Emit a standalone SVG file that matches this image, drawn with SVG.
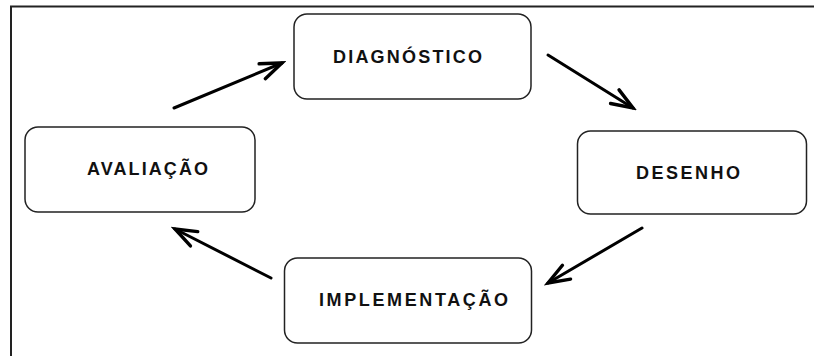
<svg xmlns="http://www.w3.org/2000/svg" width="814" height="356" viewBox="0 0 814 356">
<style>
.box{fill:#fff;stroke:#222;stroke-width:1.5}
.lbl{font-family:"Liberation Sans",Arial,sans-serif;font-weight:bold;font-size:18px;fill:#111}
.arr{stroke:#000;stroke-width:3;fill:none;stroke-linecap:round}
.frame{stroke:#222;stroke-width:2;fill:none}
</style>
<defs>
<marker id="ah" markerUnits="userSpaceOnUse" markerWidth="30" markerHeight="30" viewBox="-24 -12 28 24" refX="0" refY="0" orient="auto">
<path d="M-20,-7.5 L0,0 L-20,7.5" fill="none" stroke="#000" stroke-width="3.2" stroke-linejoin="miter" stroke-linecap="round"/>
</marker>
</defs>
<rect width="814" height="356" fill="#fff"/>
<path class="frame" d="M11,356 V6.5 H814"/>
<g id="diagnostico">
<rect class="box" x="294" y="14" width="237" height="85" rx="13"/>
<text class="lbl" x="333" y="63" textLength="149" lengthAdjust="spacing">DIAGNÓSTICO</text>
</g>
<g id="desenho">
<rect class="box" x="577.5" y="131" width="229" height="83" rx="13"/>
<text class="lbl" x="636" y="179" textLength="104" lengthAdjust="spacing">DESENHO</text>
</g>
<g id="implementacao">
<rect class="box" x="284.5" y="258" width="247" height="85" rx="13"/>
<text class="lbl" x="319" y="306" textLength="189" lengthAdjust="spacing">IMPLEMENTAÇÃO</text>
</g>
<g id="avaliacao">
<rect class="box" x="25" y="127" width="230" height="85" rx="13"/>
<text class="lbl" x="87" y="175" textLength="121" lengthAdjust="spacing">AVALIAÇÃO</text>
</g>
<g id="connectors">
<line class="arr" x1="174" y1="108" x2="282" y2="63" marker-end="url(#ah)"/>
<line class="arr" x1="548" y1="55" x2="633" y2="108" marker-end="url(#ah)"/>
<line class="arr" x1="642" y1="228" x2="548" y2="283" marker-end="url(#ah)"/>
<line class="arr" x1="271" y1="278" x2="175" y2="229" marker-end="url(#ah)"/>
</g>
</svg>
